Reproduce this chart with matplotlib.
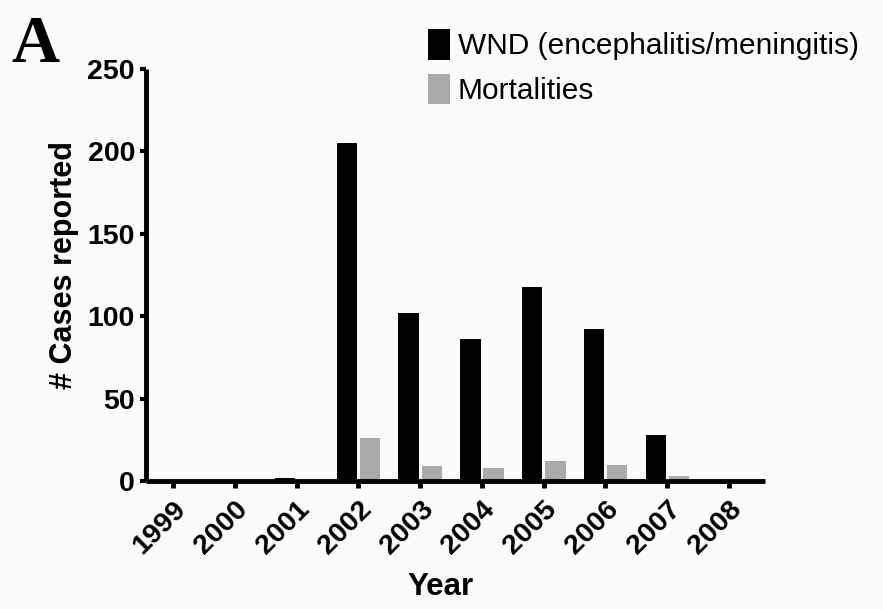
import matplotlib
matplotlib.use("Agg")
import matplotlib.pyplot as plt
import numpy as np

years = ["1999", "2000", "2001", "2002", "2003", "2004", "2005", "2006", "2007", "2008"]
wnd_cases = [0, 0, 2, 205, 102, 86, 118, 92, 28, 0]
mortalities = [0, 0, 0, 26, 9, 8, 12, 10, 3, 0]
yticks = [0, 50, 100, 150, 200, 250]

W, H = 883, 609
bg = "#fbfbfb"
fig = plt.figure(figsize=(W / 100, H / 100), dpi=100, facecolor=bg)
ax = fig.add_axes([146 / W, 128 / H, (765 - 146) / W, (540 - 128) / H])
ax.set_facecolor(bg)

x = np.arange(len(years))
bw = 0.33
ax.bar(x - 0.185, wnd_cases, width=bw, color="black", label="WND (encephalitis/meningitis)", zorder=2)
ax.bar(x + 0.19, mortalities, width=bw, color="#aaaaaa", label="Mortalities", zorder=2)

ax.set_xlim(-0.437, 9.583)
ax.set_ylim(0, 250)
ax.set_yticks(yticks)
ax.set_xticks(x)

for s in ["top", "right"]:
    ax.spines[s].set_visible(False)
for s in ["left", "bottom"]:
    ax.spines[s].set_linewidth(3.5)
    ax.spines[s].set_zorder(3)
    ax.spines[s].set_capstyle("butt")

tickfont = dict(family="Liberation Sans", weight="bold", size=20.5)
ax.set_yticklabels([str(v) for v in yticks], fontdict=tickfont)
ax.set_xticklabels(years, fontdict=tickfont, rotation=45, ha="right", va="top",
                   rotation_mode="anchor")
ax.tick_params(axis="y", direction="out", length=4, width=3, pad=4)
ax.tick_params(axis="x", direction="out", length=5, width=3.5, pad=6)

ax.set_ylabel("# Cases reported", family="Liberation Sans", weight="bold", size=22)
ax.yaxis.label.set_va("center")
ax.yaxis.set_label_coords((64 - 146) / 619, (481 - 265) / 412)
ax.set_xlabel("Year", family="Liberation Sans", weight="bold", size=22.5)
ax.xaxis.label.set_va("center")
ax.xaxis.set_label_coords((440 - 146) / 619, (481 - 587) / 412)

leg = fig.legend(loc="upper left", bbox_to_anchor=(428 / W, 1 - 29 / H), frameon=False,
                 prop=dict(family="Liberation Sans", size=21.5), handlelength=0.74,
                 handleheight=1.2, handletextpad=0.25, labelspacing=0.45,
                 borderpad=0, borderaxespad=0)

fig.text(11 / W, 1 - 62 / H, "A", family="Liberation Serif", weight="bold", size=48,
         ha="left", va="baseline")

fig.savefig("out.png", dpi=100, facecolor=bg)
